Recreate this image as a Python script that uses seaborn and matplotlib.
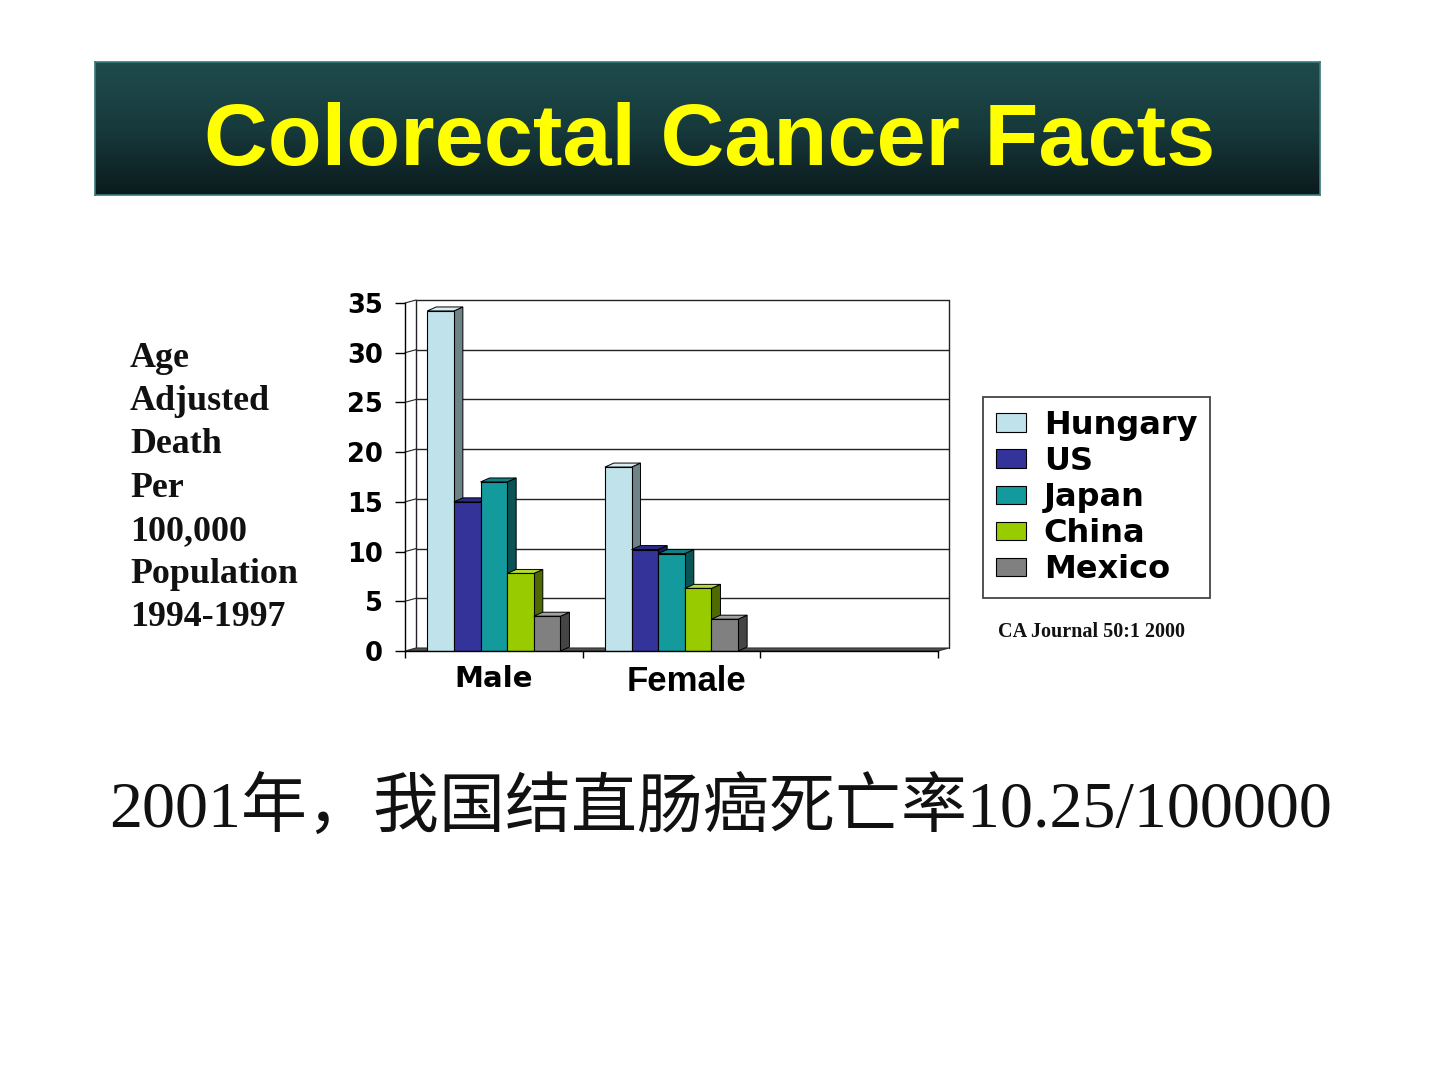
import numpy as np
import pandas as pd
import matplotlib
matplotlib.use("Agg")
import matplotlib.pyplot as plt
import seaborn as sns
from matplotlib.patches import Polygon, Patch
from matplotlib.colors import LinearSegmentedColormap
from matplotlib.transforms import ScaledTranslation

# ---------------- data ----------------
sexes = ["Male", "Female"]
countries = ["Hungary", "US", "Japan", "China", "Mexico"]
male_rates = [34.2, 15.0, 17.0, 7.8, 3.5]
female_rates = [18.5, 10.2, 9.8, 6.3, 3.2]
y_ticks = [0, 5, 10, 15, 20, 25, 30, 35]
title = "Colorectal Cancer Facts"
ylabel_lines = ["Age", "Adjusted", "Death", "Per", "100,000", "Population", "1994-1997"]
source = "CA Journal 50:1 2000"
footer = "2001年，我国结直肠癌死亡率10.25/100000"

front_colors = ["#c0e2ea", "#333399", "#139a9c", "#99cc00", "#808080"]
side_colors = ["#6e8386", "#1c1c5c", "#0a5456", "#4f6a00", "#454545"]
top_colors = ["#d8eef2", "#2a2a88", "#0f8284", "#b3dd33", "#a0a0a0"]

sns.set_theme(style="white")
plt.rcParams["font.family"] = ["DejaVu Sans"]
plt.rcParams["text.color"] = "black"
plt.rcParams["xtick.labelcolor"] = "black"
plt.rcParams["ytick.labelcolor"] = "black"

df = pd.DataFrame({
    "sex": np.repeat(sexes, len(countries)),
    "country": countries * len(sexes),
    "rate": male_rates + female_rates,
})

W, H = 1440, 1080
fig = plt.figure(figsize=(W / 100, H / 100), dpi=100)
fig.patch.set_facecolor("white")

# ---------------- banner ----------------
bax = fig.add_axes([95 / W, 1 - 195 / H, 1225 / W, 133 / H])
grad = np.linspace(0, 1, 256)[:, None]
cmap = LinearSegmentedColormap.from_list("banner", ["#1f4b4d", "#173a3c", "#0b1a1c"])
bax.imshow(grad, aspect="auto", cmap=cmap, extent=[0, 1, 0, 1], origin="upper")
bax.set_xticks([]); bax.set_yticks([])
for s in bax.spines.values():
    s.set_color("#3a7a7a"); s.set_linewidth(1.2)
bax.text(0.5016, 0.226, title, transform=bax.transAxes, ha="center", va="baseline",
         color="#ffff00", fontsize=63.5, fontweight="bold", family="Liberation Sans")

# ---------------- main chart ----------------
ax_l, ax_r, ax_t, ax_b = 405, 938, 303, 651
ax = fig.add_axes([ax_l / W, 1 - ax_b / H, (ax_r - ax_l) / W, (ax_b - ax_t) / H])
sns.barplot(data=df, x="sex", y="rate", hue="country", order=sexes, hue_order=countries,
            palette=front_colors, width=0.75, saturation=1, errorbar=None,
            edgecolor="black", linewidth=0.8, legend=False, ax=ax)
ax.set_facecolor("white")
ax.set_xlim(-0.5, 2.5)
ax.set_ylim(0, 35)

px_x = (ax_r - ax_l) / 3.0
px_y = (ax_b - ax_t) / 35.0
dx, dy = 9 / px_x, 4 / px_y          # bar depth
wx, wy = 11 / px_x, 3 / px_y         # back wall offset

# back wall, floor and gridlines
ax.add_patch(Polygon([(-0.5, 0), (2.5, 0), (2.5 + wx, wy), (-0.5 + wx, wy)],
                     closed=True, facecolor="#505050", edgecolor="#303030",
                     lw=0.8, zorder=1.2, clip_on=False))
for yv in y_ticks[1:]:
    ax.plot([-0.5 + wx, 2.5 + wx], [yv + wy, yv + wy], color="#222222", lw=1.0,
            zorder=0.8, clip_on=False)
    ax.plot([-0.5, -0.5 + wx], [yv, yv + wy], color="#222222", lw=0.8,
            zorder=0.8, clip_on=False)
ax.plot([-0.5 + wx, -0.5 + wx], [wy, 35 + wy], color="#222222", lw=1.0, zorder=0.8, clip_on=False)
ax.plot([2.5 + wx, 2.5 + wx], [wy, 35 + wy], color="#222222", lw=1.0, zorder=0.8, clip_on=False)

# pseudo-3D faces
bars = []
for ci, cont in enumerate(ax.containers):
    for p in cont.patches:
        bars.append((p.get_x(), ci, p))
bars.sort(key=lambda t: t[0])
for k, (x0, ci, p) in enumerate(bars):
    w = p.get_width(); h = p.get_height(); x1 = x0 + w
    base = 2 + k * 0.01
    ax.add_patch(Polygon([(x1, 0), (x1 + dx, dy), (x1 + dx, h + dy), (x1, h)], closed=True,
                         facecolor=side_colors[ci], edgecolor="black", lw=0.7,
                         zorder=base, clip_on=False))
    ax.add_patch(Polygon([(x0, h), (x0 + dx, h + dy), (x1 + dx, h + dy), (x1, h)], closed=True,
                         facecolor=top_colors[ci], edgecolor="black", lw=0.7,
                         zorder=base, clip_on=False))
    p.set_zorder(base + 0.005)

# spines & ticks
for side in ["top", "right"]:
    ax.spines[side].set_visible(False)
for side in ["left", "bottom"]:
    ax.spines[side].set_color("black"); ax.spines[side].set_linewidth(1.0)
ax.spines["left"].set_zorder(3)
ax.set_yticks(y_ticks)
ax.set_yticklabels([str(v) for v in y_ticks], fontsize=18.5, fontweight="heavy",
                   color="black")
ax.tick_params(axis="y", left=True, length=7, width=1, color="black", direction="out", pad=9)
ax.set_xticks([0, 1])
ax.set_xticks([-0.5, 0.5, 1.5, 2.5], minor=True)
ax.tick_params(axis="x", which="major", bottom=True, length=0, pad=10)
ax.tick_params(axis="x", which="minor", bottom=True, length=5, width=1, color="black", direction="out")
xl = ax.get_xticklabels()
xl[0].set_fontsize(21); xl[0].set_fontweight("heavy"); xl[0].set_family("DejaVu Sans")
xl[1].set_fontsize(25); xl[1].set_fontweight("bold"); xl[1].set_family("Liberation Sans")
for t in xl:
    t.set_color("black")
xl[1].set_transform(xl[1].get_transform() + ScaledTranslation(0.15, 0, fig.dpi_scale_trans))
ax.set_xlabel(""); ax.set_ylabel("")
ax.grid(False)

# legend
handles = [Patch(facecolor=c, edgecolor="black", linewidth=0.8) for c in front_colors]
leg = ax.legend(handles, countries, loc="upper left", bbox_to_anchor=(983 / W, 1 - 397 / H),
                bbox_transform=fig.transFigure, frameon=True, fancybox=False,
                prop={"weight": "heavy", "size": 23, "family": "DejaVu Sans"},
                handlelength=0.95, handleheight=0.5, labelspacing=0.16,
                borderpad=0.4, handletextpad=0.55, borderaxespad=0)
leg.get_frame().set_edgecolor("#444444")
leg.get_frame().set_linewidth(1.3)
leg.get_frame().set_alpha(1)
for t in leg.get_texts():
    t.set_color("black")

# left label
for i, line in enumerate(ylabel_lines):
    fig.text(130 / W, 1 - (367 + 43.2 * i) / H, line, ha="left", va="baseline",
             fontsize=25.8, fontweight="bold", family="Liberation Serif", color="#111111")

# source
fig.text(998 / W, 1 - 637 / H, source, ha="left", va="baseline", fontsize=14.5,
         fontweight="bold", family="Liberation Serif", color="#111111")

# footer
fig.text(721 / W, 1 - 828 / H, footer, ha="center", va="baseline", fontsize=47.5,
         fontweight="light", family=["Liberation Serif", "Noto Sans CJK SC"], color="#111111")

fig.savefig("out.png", dpi=100, facecolor="white")
